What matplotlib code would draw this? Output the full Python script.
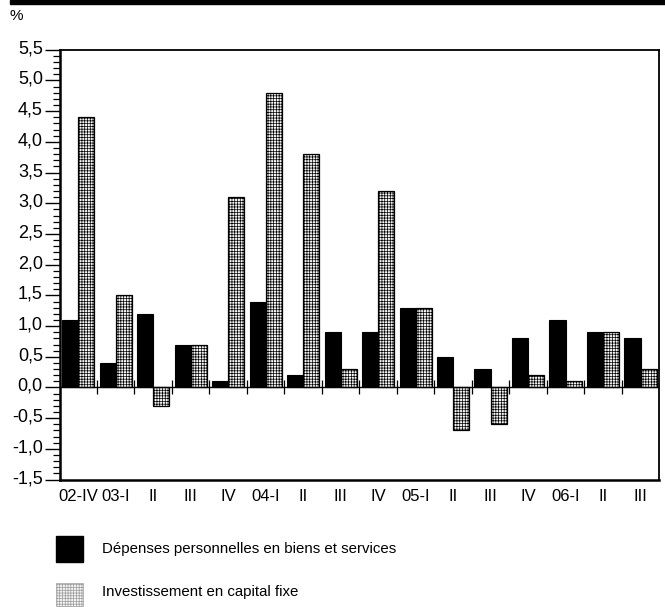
import numpy as np
import matplotlib
matplotlib.use("Agg")
import matplotlib.pyplot as plt
import matplotlib.transforms as mtransforms
from matplotlib.patches import Rectangle

# --------------------------
# Data
# --------------------------
quarters = ["02-IV", "03-I", "II", "III", "IV", "04-I", "II", "III",
            "IV", "05-I", "II", "III", "IV", "06-I", "II", "III"]
depenses = [1.1, 0.4, 1.2, 0.7, 0.1, 1.4, 0.2, 0.9,
            0.9, 1.3, 0.5, 0.3, 0.8, 1.1, 0.9, 0.8]
investissement = [4.4, 1.5, -0.3, 0.7, 3.1, 4.8, 3.8, 0.3,
                  3.2, 1.3, -0.7, -0.6, 0.2, 0.1, 0.9, 0.3]
y_ticks = np.arange(-1.5, 5.51, 0.5)
legend_labels = ["Dépenses personnelles en biens et services",
                 "Investissement en capital fixe"]

# --------------------------
# Style
# --------------------------
plt.rcParams["font.family"] = ["Liberation Sans", "DejaVu Sans"]
plt.rcParams["hatch.color"] = "#9c9c9c"
plt.rcParams["hatch.linewidth"] = 0.5

HATCH_FACE = "#f4f4f4"

fig = plt.figure(figsize=(6.65, 6.07), dpi=100)
ax = fig.add_axes([0.0895, 0.2099, 0.9019, 0.7081])

x = np.arange(len(quarters))
w = 0.43
ax.bar(x + 0.5 - w / 2, depenses, width=w, color="black", edgecolor="black",
       linewidth=0.8)
ax.bar(x + 0.5 + w / 2, investissement, width=w, color=HATCH_FACE,
       edgecolor="black", linewidth=0.9, hatch="++++++")

ax.set_xlim(0, len(quarters))
ax.set_ylim(-1.5, 5.5)

# zero line with group separators
ax.axhline(0, color="black", linewidth=1.0, zorder=3)
ax.plot(x[1:], np.zeros(len(x) - 1), linestyle="none", marker="|",
        markersize=10, markeredgewidth=0.9, color="black", zorder=3)

# y axis
ax.set_yticks(y_ticks)
ax.set_yticklabels([f"{v:.1f}".replace(".", ",") for v in y_ticks])
ax.set_yticks(np.arange(-1.5, 5.51, 0.1), minor=True)
ax.tick_params(axis="y", which="major", direction="out", length=11,
               width=1.0, labelsize=13, pad=1)
ax.tick_params(axis="y", which="minor", direction="out", length=5, width=0.9)
offset = mtransforms.ScaledTranslation(0, 3 / 100, fig.dpi_scale_trans)
for lab in ax.get_yticklabels():
    lab.set_transform(lab.get_transform() + offset)

# x axis labels below the frame
ax.set_xticks(x + 0.5)
ax.set_xticklabels(quarters)
ax.tick_params(axis="x", length=0, labelsize=12, pad=7)

for side in ["left", "bottom"]:
    ax.spines[side].set_linewidth(1.8)
for side in ["top", "right"]:
    ax.spines[side].set_linewidth(1.3)

# header bar and unit
fig.patches.append(Rectangle((0.015, 0.994), 0.985, 0.006,
                             transform=fig.transFigure, color="black"))
fig.text(0.015, 0.973, "%", fontsize=11, va="center", ha="left")

# legend
fig.patches.append(Rectangle((56 / 665, 1 - 562 / 607), 27 / 665, 26 / 607,
                             transform=fig.transFigure, facecolor="black",
                             edgecolor="black"))
fig.patches.append(Rectangle((56 / 665, 1 - 606 / 607), 27 / 665, 23 / 607,
                             transform=fig.transFigure, facecolor=HATCH_FACE,
                             edgecolor="#9c9c9c", hatch="++++++",
                             linewidth=0.5))
fig.text(102 / 665, 1 - 549 / 607, legend_labels[0], fontsize=10.8,
         va="center", ha="left")
fig.text(102 / 665, 1 - 592 / 607, legend_labels[1], fontsize=10.8,
         va="center", ha="left")

fig.savefig("out.png", dpi=100)
